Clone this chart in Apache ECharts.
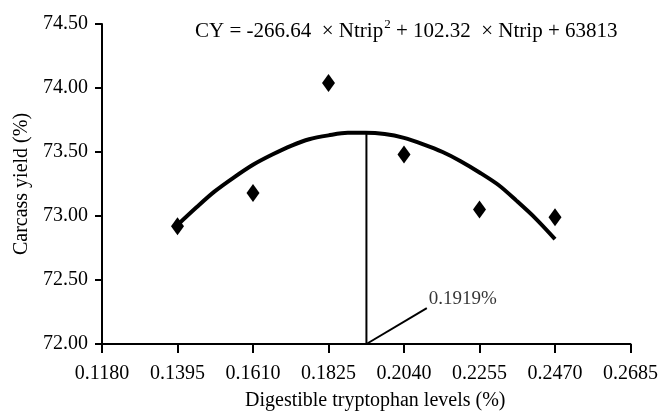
<!DOCTYPE html>
<html><head><meta charset="utf-8">
<script src="https://cdn.jsdelivr.net/npm/echarts@6/dist/echarts.min.js"></script>
<style>html,body{margin:0;padding:0;background:#fff}#c{width:661px;height:416px}</style>
</head><body><div id="c"></div>
<script>
// Observed data
var levels = [0.1395, 0.1610, 0.1825, 0.2040, 0.2255, 0.2470];
var carcassYield = [72.92, 73.18, 74.04, 73.48, 73.05, 72.99];
// Fitted curve
var curveX = [0.1395, 0.1450, 0.1500, 0.1555, 0.1610, 0.1665, 0.1720, 0.1770, 0.1825, 0.1880, 0.1930, 0.1985, 0.2040, 0.2095, 0.2150, 0.2200, 0.2255, 0.2310, 0.2360, 0.2415, 0.2470];
var curveY = [72.93, 73.07, 73.19, 73.30, 73.40, 73.48, 73.55, 73.60, 73.63, 73.65, 73.65, 73.64, 73.61, 73.56, 73.50, 73.43, 73.34, 73.24, 73.12, 72.98, 72.82];
// Optimum marker
var optimumX = [0.1933, 0.1933];
var optimumY = [72.00, 73.65];
var pointerX = [0.1933, 0.2105];
var pointerY = [72.00, 72.28];
var optimumLabel = '0.1919%';
var xTicks = {min: 0.1180, max: 0.2685, step: 0.0215};
var yTicks = {min: 72.0, max: 74.5, step: 0.5};

function zip(a, b) { return a.map(function (v, i) { return [v, b[i]]; }); }
var FONT = 'Liberation Serif';
var chart = echarts.init(document.getElementById('c'), null, {renderer: 'canvas'});
var pointer = zip(pointerX, pointerY);
chart.setOption({
  backgroundColor: '#fff',
  animation: false,
  title: {
    left: 190, top: 13,
    text: '{a|CY = -266.64  × Ntrip}{s|2}{a| + 102.32  × Ntrip + 63813}',
    textStyle: {
      fontWeight: 'normal',
      rich: {
        a: {fontFamily: FONT, fontSize: 21, fontWeight: 'normal', color: '#000', lineHeight: 24, verticalAlign: 'bottom'},
        s: {fontFamily: FONT, fontSize: 13, fontWeight: 'normal', color: '#000', lineHeight: 24, verticalAlign: 'top', padding: [0, 0, 0, 1]}
      }
    }
  },
  grid: {left: 102, right: 30, top: 24, bottom: 72},
  xAxis: {
    type: 'value', min: xTicks.min, max: xTicks.max, interval: xTicks.step,
    name: 'Digestible tryptophan levels (%)', nameLocation: 'middle', nameGap: 47,
    nameTextStyle: {fontFamily: FONT, fontSize: 20, color: '#000', padding: [0, 0, 0, 18]},
    axisLine: {show: true, lineStyle: {color: '#000', width: 2}},
    axisTick: {show: true, length: 9, lineStyle: {color: '#000', width: 2}},
    axisLabel: {fontFamily: FONT, fontSize: 20, color: '#000', margin: 20, formatter: function (v) { return v.toFixed(4); }},
    splitLine: {show: false}
  },
  yAxis: {
    type: 'value', min: yTicks.min, max: yTicks.max, interval: yTicks.step,
    name: 'Carcass yield (%)', nameLocation: 'middle', nameGap: 66, nameRotate: 90,
    nameTextStyle: {fontFamily: FONT, fontSize: 20, color: '#000'},
    axisLine: {show: true, lineStyle: {color: '#000', width: 2}},
    axisTick: {show: true, length: 7, lineStyle: {color: '#000', width: 2}},
    axisLabel: {fontFamily: FONT, fontSize: 20, color: '#000', margin: 14, formatter: function (v) { return v.toFixed(2); }},
    splitLine: {show: false}
  },
  series: [
    {type: 'line', data: zip(curveX, curveY), smooth: 0.3, symbol: 'none', lineStyle: {color: '#000', width: 4}, z: 3},
    {type: 'line', data: zip(optimumX, optimumY), symbol: 'none', lineStyle: {color: '#000', width: 2}, z: 2},
    {type: 'line', data: pointer, symbol: 'none', lineStyle: {color: '#000', width: 2}, z: 2},
    {type: 'scatter', data: [pointer[1]], symbolSize: 0, silent: true,
      label: {show: true, formatter: optimumLabel, position: 'right', distance: 2, offset: [0, -9], color: '#000', fontFamily: FONT, fontSize: 19}},
    {type: 'scatter', data: zip(levels, carcassYield), symbol: 'diamond', symbolSize: [13, 18], itemStyle: {color: '#000', opacity: 1}, z: 4}
  ]
});
</script></body></html>
